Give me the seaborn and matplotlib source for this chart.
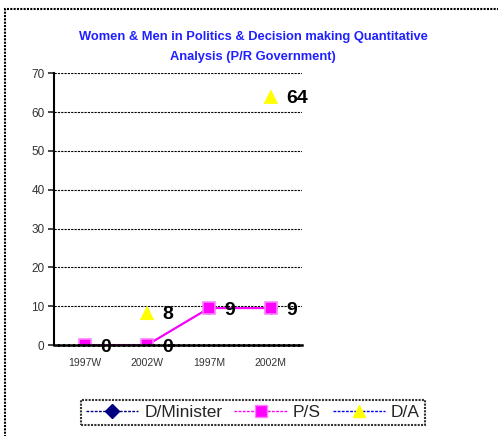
import numpy as np
import pandas as pd
import matplotlib
matplotlib.use("Agg")
import matplotlib.pyplot as plt
import seaborn as sns
from matplotlib.lines import Line2D
from matplotlib.patches import Rectangle

categories = ["1997W", "2002W", "1997M", "2002M"]
d_minister = [0, 0, 9.5, 9.5]
p_s = [0, 0, 9.5, 9.5]
d_a = [np.nan, 8.3, np.nan, 64]
y_ticks = [0, 10, 20, 30, 40, 50, 60, 70]

sns.set_style("white")
plt.rcParams["font.family"] = ["Liberation Sans", "DejaVu Sans"]

df = pd.DataFrame({"cat": categories, "pos": np.arange(len(categories)),
                   "D/Minister": d_minister, "P/S": p_s, "D/A": d_a})

fig = plt.figure(figsize=(4.98, 4.36), dpi=100)
ax = fig.add_axes([0.109, 0.2087, 0.497, 0.6232])

sns.lineplot(data=df, x="pos", y="D/Minister", ax=ax, color="#000080", lw=1,
             marker="D", markersize=6, markerfacecolor="#000080",
             markeredgecolor="#000080")
sns.lineplot(data=df, x="pos", y="P/S", ax=ax, color="#FF00FF", lw=1.5,
             marker="s", markersize=8, markerfacecolor="#FF00FF",
             markeredgecolor="#FF80FF", markeredgewidth=1.2)
sns.scatterplot(data=df.dropna(), x="pos", y="D/A", ax=ax, color="#FFFF00",
                marker="^", s=110, edgecolor="none")

# data labels
for i, v in enumerate(d_minister):
    ax.annotate(f"{int(v)}", (i, v), xytext=(11, -1.5), textcoords="offset points",
                ha="left", va="center", fontsize=14, fontweight="bold", color="black")
for i, v in enumerate(d_a):
    if not np.isnan(v):
        ax.annotate(f"{int(v)}", (i, v), xytext=(11, -1.5), textcoords="offset points",
                    ha="left", va="center", fontsize=14, fontweight="bold", color="black")

ax.set_xlim(-0.5, 3.5)
ax.set_ylim(0, 70)
ax.set_yticks(y_ticks)
ax.set_yticklabels([str(t) for t in y_ticks], fontsize=8.5, color="#333333")
ax.set_xticks(range(len(categories)))
ax.set_xticklabels(categories, fontsize=7.5, color="#333333")
ax.set_xticks(np.arange(-0.5, 4, 1), minor=True)
ax.tick_params(axis="x", which="major", length=0, pad=9)
ax.tick_params(axis="x", which="minor", length=4, width=1.2, direction="out")
ax.tick_params(axis="y", length=4, width=1.2, direction="out", left=True, pad=3)
ax.set_xlabel("")
ax.set_ylabel("")
for t in y_ticks[1:]:
    ax.axhline(t, color="black", lw=0.8, ls=(0, (2, 1)), zorder=0)
for s in ["top", "right"]:
    ax.spines[s].set_visible(False)
ax.spines["left"].set_color("black")
ax.spines["left"].set_linewidth(1.5)
ax.spines["bottom"].set_color("black")
ax.spines["bottom"].set_linewidth(1.8)
ax.spines["bottom"].set_linestyle((0, (1.5, 0.5)))

fig.text(0.508, 0.928, "Women & Men in Politics & Decision making Quantitative\nAnalysis (P/R Government)",
         ha="center", va="top", fontsize=9.3, fontweight="bold", color="#1F1FFF",
         linespacing=1.85)

handles = [
    Line2D([], [], color="#000080", lw=1, ls=(0, (2, 1)), marker="D", markersize=7,
           markerfacecolor="#000080", markeredgecolor="#000080"),
    Line2D([], [], color="#FF00FF", lw=1, ls=(0, (2, 1)), marker="s", markersize=8,
           markerfacecolor="#FF00FF", markeredgecolor="#FF80FF"),
    Line2D([], [], color="#0000FF", lw=1, ls=(0, (2, 1)), marker="^", markersize=9,
           markerfacecolor="#FFFF00", markeredgecolor="#FFFF00"),
]
leg = fig.legend(handles, ["D/Minister", "P/S", "D/A"], loc="center",
                 bbox_to_anchor=(0.508, 0.054), ncol=3, fontsize=12.5,
                 frameon=True, fancybox=False, handlelength=3.0,
                 handletextpad=0.35, columnspacing=0.7, borderpad=0.3,
                 borderaxespad=0)
leg.get_frame().set_edgecolor("black")
leg.get_frame().set_linewidth(1.5)
leg.get_frame().set_linestyle((0, (1, 0.6)))

fig.patches.append(Rectangle((5 / 498, -0.1), 1.2, 1.1 - 9 / 436,
                             transform=fig.transFigure, fill=False,
                             edgecolor="black", lw=1.5, ls=(0, (1, 0.6))))

fig.savefig("out.png", dpi=100)
